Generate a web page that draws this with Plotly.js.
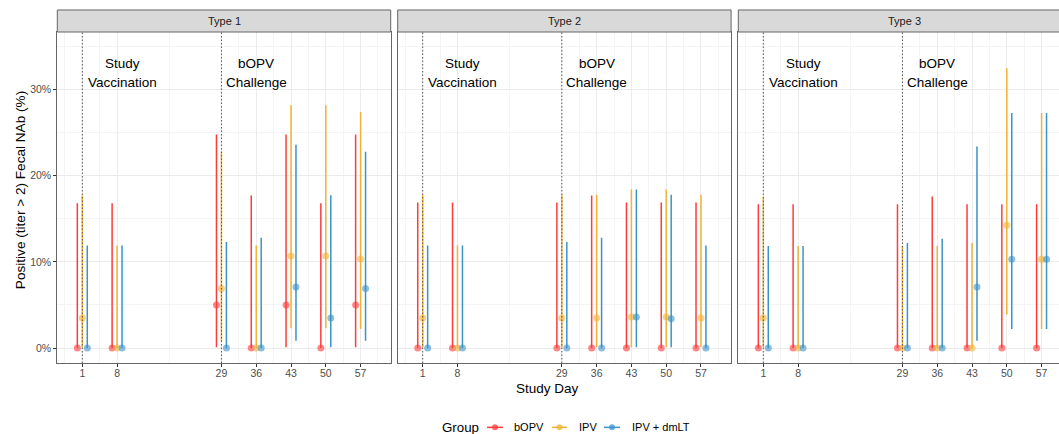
<!DOCTYPE html>
<html><head><meta charset="utf-8">
<script src="https://cdn.plot.ly/plotly-3.0.1.min.js"></script>
<style>html,body{margin:0;padding:0;background:#fff}#chart{width:1059px;height:434px}</style>
</head><body><div id="chart"></div>
<script>
// ---------- data ----------
const days = [1, 8, 29, 36, 43, 50, 57];
const dayLabels = ['1', '8', '29', '36', '43', '50', '57'];
const panelTitles = ['Type 1', 'Type 2', 'Type 3'];
const groupNames = ['bOPV', 'IPV', 'IPV + dmLT'];
const yTicks = [0, 10, 20, 30];
const markerDays = [1, 29];

// Type 1
const t1_bOPV_est = [0, 0, 5, 0, 5, 0, 5];
const t1_bOPV_lo  = [0, 0, 0.1, 0, 0.1, 0, 0.1];
const t1_bOPV_hi  = [16.8, 16.8, 24.8, 17.7, 24.8, 16.8, 24.8];
const t1_IPV_est  = [3.5, 0, 6.9, 0, 10.7, 10.7, 10.35];
const t1_IPV_lo   = [0.1, 0, 0.8, 0, 2.3, 2.3, 2.2];
const t1_IPV_hi   = [17.7, 11.9, 22.8, 11.9, 28.2, 28.2, 27.4];
const t1_dmLT_est = [0, 0, 0, 0, 7.1, 3.5, 6.9];
const t1_dmLT_lo  = [0, 0, 0, 0, 0.85, 0.1, 0.85];
const t1_dmLT_hi  = [11.9, 11.9, 12.3, 12.8, 23.6, 17.75, 22.8];
// Type 2
const t2_bOPV_est = [0, 0, 0, 0, 0, 0, 0];
const t2_bOPV_lo  = [0, 0, 0, 0, 0, 0, 0];
const t2_bOPV_hi  = [16.9, 16.9, 16.9, 17.7, 16.9, 16.9, 16.9];
const t2_IPV_est  = [3.5, 0, 3.5, 3.5, 3.6, 3.6, 3.5];
const t2_IPV_lo   = [0.1, 0, 0.1, 0.1, 0.1, 0.1, 0.1];
const t2_IPV_hi   = [17.8, 11.9, 17.8, 17.8, 18.4, 18.4, 17.8];
const t2_dmLT_est = [0, 0, 0, 0, 3.6, 3.4, 0];
const t2_dmLT_lo  = [0, 0, 0, 0, 0.1, 0.1, 0];
const t2_dmLT_hi  = [11.9, 11.9, 12.3, 12.8, 18.4, 17.8, 11.9];
// Type 3
const t3_bOPV_est = [0, 0, 0, 0, 0, 0, 0];
const t3_bOPV_lo  = [0, 0, 0, 0, 0, 0, 0];
const t3_bOPV_hi  = [16.7, 16.7, 16.7, 17.6, 16.7, 16.7, 16.7];
const t3_IPV_est  = [3.5, 0, 0, 0, 0, 14.25, 10.3];
const t3_IPV_lo   = [0.1, 0, 0, 0, 0, 3.9, 2.2];
const t3_IPV_hi   = [17.6, 11.85, 11.85, 11.85, 12.2, 32.5, 27.3];
const t3_dmLT_est = [0, 0, 0, 0, 7.1, 10.3, 10.3];
const t3_dmLT_lo  = [0, 0, 0, 0, 0.85, 2.2, 2.2];
const t3_dmLT_hi  = [11.85, 11.85, 12.2, 12.7, 23.4, 27.3, 27.3];

const noteText = ['Study', 'Vaccination', 'bOPV', 'Challenge'];
const noteX = [9, 9, 36, 36];
const noteY = [33.07, 30.8, 33.07, 30.8];

// ---------- styling / layout ----------
const groupColors = ['#FF3B3B', '#F2B233', '#3A93C9'];
const dodge = [-1, 0, 1];
const FONT = 'Liberation Sans, Arial, sans-serif';
const W = 1059, H = 434, L = 57, T = 32, B = 71.3;
const PW = W - L, PH = H - T - B;
const fx = px => (px - L) / PW;
const fy = py => (H - B - py) / PH;
const borderColor = '#666666';

const seriesData = [
  [[t1_bOPV_est, t1_bOPV_lo, t1_bOPV_hi], [t1_IPV_est, t1_IPV_lo, t1_IPV_hi], [t1_dmLT_est, t1_dmLT_lo, t1_dmLT_hi]],
  [[t2_bOPV_est, t2_bOPV_lo, t2_bOPV_hi], [t2_IPV_est, t2_IPV_lo, t2_IPV_hi], [t2_dmLT_est, t2_dmLT_lo, t2_dmLT_hi]],
  [[t3_bOPV_est, t3_bOPV_lo, t3_bOPV_hi], [t3_IPV_est, t3_IPV_lo, t3_IPV_hi], [t3_dmLT_est, t3_dmLT_lo, t3_dmLT_hi]]
];

const panelPx = [[57.3, 390.7], [397.7, 731.1], [738.3, 1071.7]];
const fullRange = [-4.03, 63.06];
const domains = panelPx.map(p => [Math.max(0, fx(p[0])), Math.min(1, fx(p[1]))]);
const ranges = panelPx.map(p => {
  const vis = (Math.min(p[1], W) - p[0]) / (p[1] - p[0]);
  return [fullRange[0], fullRange[0] + vis * (fullRange[1] - fullRange[0])];
});

// minor grid positions: midpoints of day ticks, extended one half-step beyond each end
const minorX = [];
minorX.push(days[0] - (days[1] - days[0]) / 2);
for (let i = 0; i < days.length - 1; i++) minorX.push((days[i] + days[i + 1]) / 2);
minorX.push(days[days.length - 1] + (days[days.length - 1] - days[days.length - 2]) / 2);

const traces = [];
seriesData.forEach((panel, p) => {
  const xa = p === 0 ? 'x' : 'x' + (p + 1);
  const ya = p === 0 ? 'y' : 'y' + (p + 1);
  panel.forEach((s, g) => {
    const [est, lo, hi] = s;
    traces.push({
      type: 'scatter', mode: 'markers', xaxis: xa, yaxis: ya,
      name: groupNames[g], showlegend: false, hoverinfo: 'skip',
      x: days.map(d => d + dodge[g]),
      y: est,
      error_y: {
        type: 'data', symmetric: false,
        array: hi.map((h, i) => h - est[i]),
        arrayminus: lo.map((l, i) => est[i] - l),
        width: 0, thickness: 1.5, color: groupColors[g]
      },
      marker: { size: 7, color: groupColors[g], opacity: 0.6, line: { width: 0 } }
    });
  });
});

const tickFont = { family: FONT, size: 10.5, color: '#4D4D4D' };
const layout = {
  width: W, height: H,
  margin: { l: L, r: 0, t: T, b: B },
  paper_bgcolor: '#fff', plot_bgcolor: '#fff',
  font: { family: FONT },
  showlegend: false,
  shapes: [], annotations: []
};

for (let p = 0; p < 3; p++) {
  const xk = p === 0 ? 'xaxis' : 'xaxis' + (p + 1);
  const yk = p === 0 ? 'yaxis' : 'yaxis' + (p + 1);
  const xa = p === 0 ? 'x' : 'x' + (p + 1);
  const ya = p === 0 ? 'y' : 'y' + (p + 1);
  layout[xk] = {
    domain: domains[p], range: ranges[p], anchor: ya,
    tickmode: 'array', tickvals: days, ticktext: dayLabels,
    ticks: 'outside', ticklen: 3, tickwidth: 1, tickcolor: '#333',
    tickfont: tickFont, ticklabelstandoff: -3,
    showgrid: true, gridcolor: '#EBEBEB', gridwidth: 1,
    minor: { tickmode: 'array', tickvals: minorX, showgrid: true, gridcolor: '#F4F4F4', gridwidth: 1, ticks: '' },
    zeroline: false, showline: true, mirror: true, linecolor: borderColor, linewidth: 1,
    fixedrange: true
  };
  layout[yk] = {
    domain: [0, 1], range: [-1.74, 36.7], anchor: xa,
    tickmode: 'array', tickvals: yTicks, ticktext: yTicks.map(v => v + '%'),
    ticks: p === 0 ? 'outside' : '', ticklen: 3, tickcolor: '#333',
    showticklabels: p === 0, tickfont: tickFont,
    showgrid: true, gridcolor: '#EBEBEB', gridwidth: 1,
    minor: { tickmode: 'linear', tick0: 5, dtick: 10, showgrid: true, gridcolor: '#F4F4F4', gridwidth: 1, ticks: '' },
    zeroline: false, showline: true, mirror: p < 2, linecolor: borderColor, linewidth: 1,
    fixedrange: true
  };
  if (p > 0) layout[yk].matches = 'y';

  // strip
  const sx0 = fx(panelPx[p][0]), sx1 = fx(panelPx[p][1]);
  layout.shapes.push({
    type: 'rect', xref: 'paper', yref: 'paper',
    x0: sx0, x1: sx1, y0: fy(32), y1: fy(10),
    fillcolor: '#D9D9D9', line: { color: borderColor, width: 1 }, layer: 'above'
  });
  layout.annotations.push({
    xref: 'paper', yref: 'paper', x: (sx0 + sx1) / 2, y: fy(21),
    text: panelTitles[p], showarrow: false, xanchor: 'center', yanchor: 'middle',
    font: { family: FONT, size: 11, color: '#1A1A1A' }
  });

  // dotted reference lines
  markerDays.forEach(d => {
    layout.shapes.push({
      type: 'line', xref: xa, yref: ya + ' domain', x0: d, x1: d, y0: 0, y1: 1,
      line: { color: '#555', width: 1, dash: '1.5px,2px' }, layer: 'above'
    });
  });

  // text notes
  noteText.forEach((t, i) => {
    layout.annotations.push({
      xref: xa, yref: ya, x: noteX[i], y: noteY[i], text: t, showarrow: false,
      xanchor: 'center', yanchor: 'middle',
      font: { family: FONT, size: 13.5, color: '#000' }
    });
  });
}

// axis titles
layout.annotations.push({
  xref: 'paper', yref: 'paper', x: fx(547), y: fy(388), text: 'Study Day', showarrow: false,
  xanchor: 'center', yanchor: 'middle', font: { family: FONT, size: 13.5, color: '#000' }
});
layout.annotations.push({
  xref: 'paper', yref: 'paper', x: fx(20), y: fy(190), text: 'Positive (titer > 2) Fecal NAb (%)',
  showarrow: false, textangle: -90, xanchor: 'center', yanchor: 'middle',
  font: { family: FONT, size: 13.6, color: '#000' }
});

// legend (drawn manually)
const legY = 427;
layout.annotations.push({
  xref: 'paper', yref: 'paper', x: fx(440), y: fy(legY), text: 'Group', showarrow: false,
  xanchor: 'left', yanchor: 'middle', font: { family: FONT, size: 13.3, color: '#000' }
});
const legLine = [[487, 503], [552, 567], [604, 620]];
const legText = [512, 577, 630];
groupNames.forEach((g, i) => {
  const [a, b] = legLine[i];
  const c = (a + b) / 2;
  layout.shapes.push({
    type: 'line', xref: 'paper', yref: 'paper', x0: fx(a), x1: fx(b), y0: fy(legY), y1: fy(legY),
    line: { color: groupColors[i], width: 1.5 }
  });
  layout.shapes.push({
    type: 'circle', xref: 'paper', yref: 'paper',
    x0: fx(c - 3), x1: fx(c + 3), y0: fy(legY + 3), y1: fy(legY - 3),
    fillcolor: groupColors[i], opacity: 0.75, line: { width: 0 }
  });
  layout.annotations.push({
    xref: 'paper', yref: 'paper', x: fx(legText[i]), y: fy(legY), text: g, showarrow: false,
    xanchor: 'left', yanchor: 'middle', font: { family: FONT, size: 11, color: '#000' }
  });
});

Plotly.newPlot('chart', traces, layout, { displayModeBar: false, staticPlot: true });
</script>
</body></html>
